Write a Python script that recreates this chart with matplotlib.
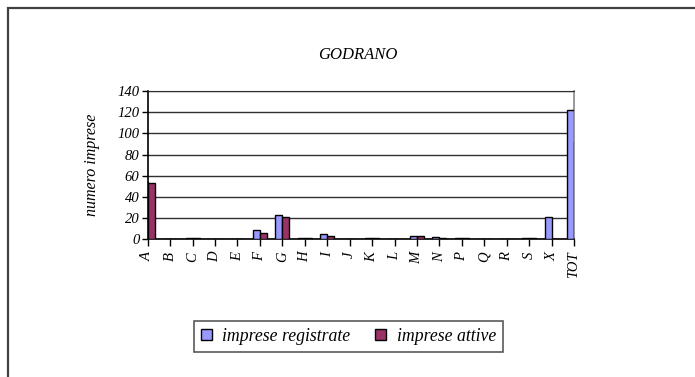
import matplotlib
matplotlib.use("Agg")
import matplotlib.pyplot as plt
import numpy as np
from matplotlib.patches import Rectangle

categories = ["A", "B", "C", "D", "E", "F", "G", "H", "I", "J", "K", "L",
              "M", "N", "P", "Q", "R", "S", "X", "TOT"]
registrate = [54, 0, 1, 0, 0, 9, 23, 1, 5, 0, 1, 0, 3, 2, 1, 0, 0, 1, 21, 122]
attive = [53, 0, 1, 0, 0, 6, 21, 1, 3, 0, 1, 0, 3, 1, 1, 0, 0, 1, 0, 92]
series_names = ["imprese registrate", "imprese attive"]
title = "GODRANO"
ylabel = "numero imprese"

plt.rcParams['font.family'] = ['Liberation Serif', 'DejaVu Serif']
plt.rcParams['font.style'] = 'italic'

W, H = 695, 377
fig = plt.figure(figsize=(W / 100, H / 100), dpi=100)

# outer frame
fig.patches.append(Rectangle((8 / W, -0.1), 1.2, 1 - 8 / H + 0.1,
                             transform=fig.transFigure, fill=False,
                             edgecolor='#404040', linewidth=1.6))

ax = fig.add_axes([147.7 / W, 1 - 239.3 / H, (574 - 147.7) / W, (239.3 - 91) / H])
x = np.arange(len(categories))
bw = 0.31
b1 = ax.bar(x - bw / 2, registrate, bw, color='#9999FF', edgecolor='black',
            linewidth=1.0, label=series_names[0], zorder=3)
b2 = ax.bar(x + bw / 2, attive, bw, color='#993366', edgecolor='black',
            linewidth=1.0, label=series_names[1], zorder=3)

ax.set_xlim(0, len(categories) - 1)
ax.set_ylim(0, 140)
ax.set_yticks(np.arange(0, 141, 20))
ax.set_xticks(x)
ax.set_xticklabels(categories, rotation=90, fontsize=10.5, style='italic')
ax.tick_params(axis='y', labelsize=10.5, length=4, width=1, direction='out', pad=2)
ax.tick_params(axis='x', length=5, width=1, direction='out', pad=4)
for lab in ax.get_yticklabels():
    lab.set_style('italic')
ax.grid(axis='y', color='#303030', linewidth=1.0, zorder=0)
ax.set_axisbelow(True)
ax.spines['left'].set_linewidth(1.2)
ax.spines['bottom'].set_linewidth(1.2)
ax.spines['top'].set_color('#303030')
ax.spines['right'].set_color('#888888')
ax.spines['right'].set_linewidth(1.2)

fig.text(357.5 / W, 1 - 55 / H, title, ha='center', va='center', fontsize=12,
         style='italic')
fig.text(92 / W, 1 - 165 / H, ylabel, ha='center', va='center', rotation=90,
         fontsize=11.5, style='italic')

leg = fig.legend(handles=[b1, b2], labels=series_names, loc='center',
                 bbox_to_anchor=(348.5 / W, 1 - 336.5 / H), ncol=2,
                 frameon=True, fancybox=False,
                 handlelength=0.6, handleheight=0.6, handletextpad=0.6,
                 columnspacing=1.4, borderpad=0.4, borderaxespad=0,
                 prop={'style': 'italic', 'size': 12.8})
leg.get_frame().set_edgecolor('#303030')
leg.get_frame().set_linewidth(1.2)

fig.savefig("out.png", dpi=100)
